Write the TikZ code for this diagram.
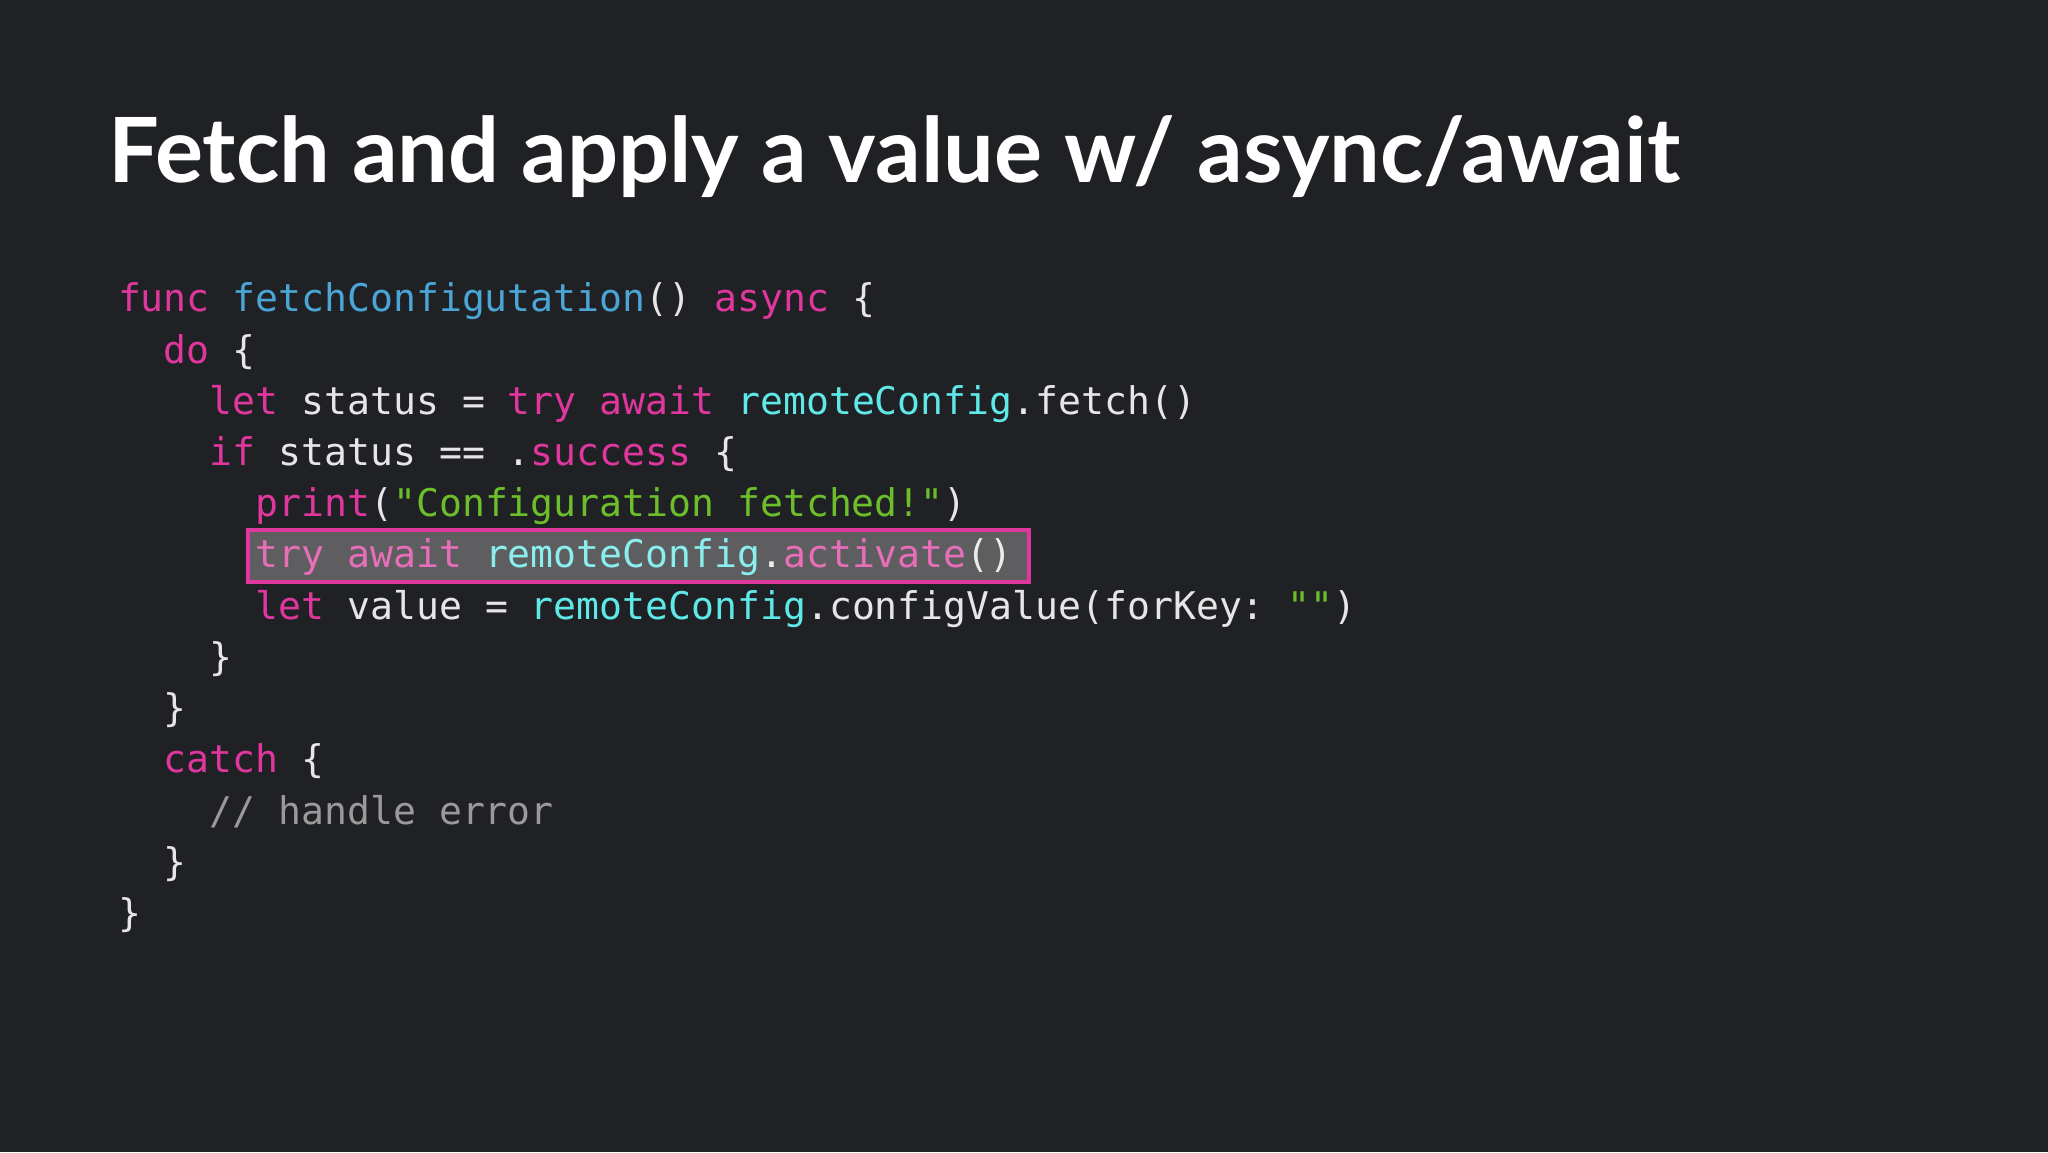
\documentclass[tikz,border=0pt]{standalone}
\usepackage{fontspec}
\setmainfont{Lato}
\setmonofont{DejaVu Sans Mono}
\definecolor{bg}{HTML}{202124}
\definecolor{kw}{HTML}{E0379E}
\definecolor{fn}{HTML}{4AA6D6}
\definecolor{rc}{HTML}{5EE8E8}
\definecolor{str}{HTML}{6CBF2A}
\definecolor{tx}{HTML}{E6E6E6}
\definecolor{cmt}{HTML}{9A9A9A}
\newcommand{\kw}[1]{\textcolor{kw}{#1}}
\newcommand{\fn}[1]{\textcolor{fn}{#1}}
\newcommand{\rc}[1]{\textcolor{rc}{#1}}
\newcommand{\str}[1]{\textcolor{str}{#1}}
\newcommand{\cmt}[1]{\textcolor{cmt}{#1}}
\begin{document}
\begin{tikzpicture}[x=1pt,y=1pt,
  code/.style={anchor=base west,inner sep=0,text=tx,font=\ttfamily\fontsize{19.05}{22}\selectfont},
  ttl/.style={anchor=base west,inner sep=0,text=white,font=\bfseries\fontsize{45}{50}\selectfont}]
\fill[bg] (0,0) rectangle (1024,576);
\useasboundingbox (0,0) rectangle (1024,576);
\node[ttl] (title) at (54,576-91.5) {Fetch and apply a value w/ async/await};
\def\cw{11.47}
\def\ls{25.6}
\def\by{576-156}
\node[code] (l1) at (58.8,\by) {\kw{func} \fn{fetchConfigutation}() \kw{async} \{};
\node[code] (l2) at (58.8+2*\cw,\by-\ls) {\kw{do} \{};
\node[code] (l3) at (58.8+4*\cw,\by-2*\ls) {\kw{let} status = \kw{try} \kw{await} \rc{remoteConfig}.fetch()};
\node[code] (l4) at (58.8+4*\cw,\by-3*\ls) {\kw{if} status == .\kw{success} \{};
\node[code] (l5) at (58.8+6*\cw,\by-4*\ls) {\kw{print}(\str{"Configuration fetched!"})};
\node[code] (l6) at (58.8+6*\cw,\by-5*\ls) {\kw{try} \kw{await} \rc{remoteConfig}.\kw{activate}()};
\node[code] (l7) at (58.8+6*\cw,\by-6*\ls) {\kw{let} value = \rc{remoteConfig}.configValue(forKey: \str{""})};
\node[code] (l8) at (58.8+4*\cw,\by-7*\ls) {\}};
\node[code] (l9) at (58.8+2*\cw,\by-8*\ls) {\}};
\node[code] (l10) at (58.8+2*\cw,\by-9*\ls) {\kw{catch} \{};
\node[code] (l11) at (58.8+4*\cw,\by-10*\ls) {\cmt{// handle error}};
\node[code] (l12) at (58.8+2*\cw,\by-11*\ls) {\}};
\node[code] (l13) at (58.8,\by-12*\ls) {\}};
\fill[white,fill opacity=0.28] (124,576-265) rectangle (514.5,576-291);
\draw[kw,line width=2pt] (124,576-265) rectangle (514.5,576-291);
\end{tikzpicture}
\end{document}
